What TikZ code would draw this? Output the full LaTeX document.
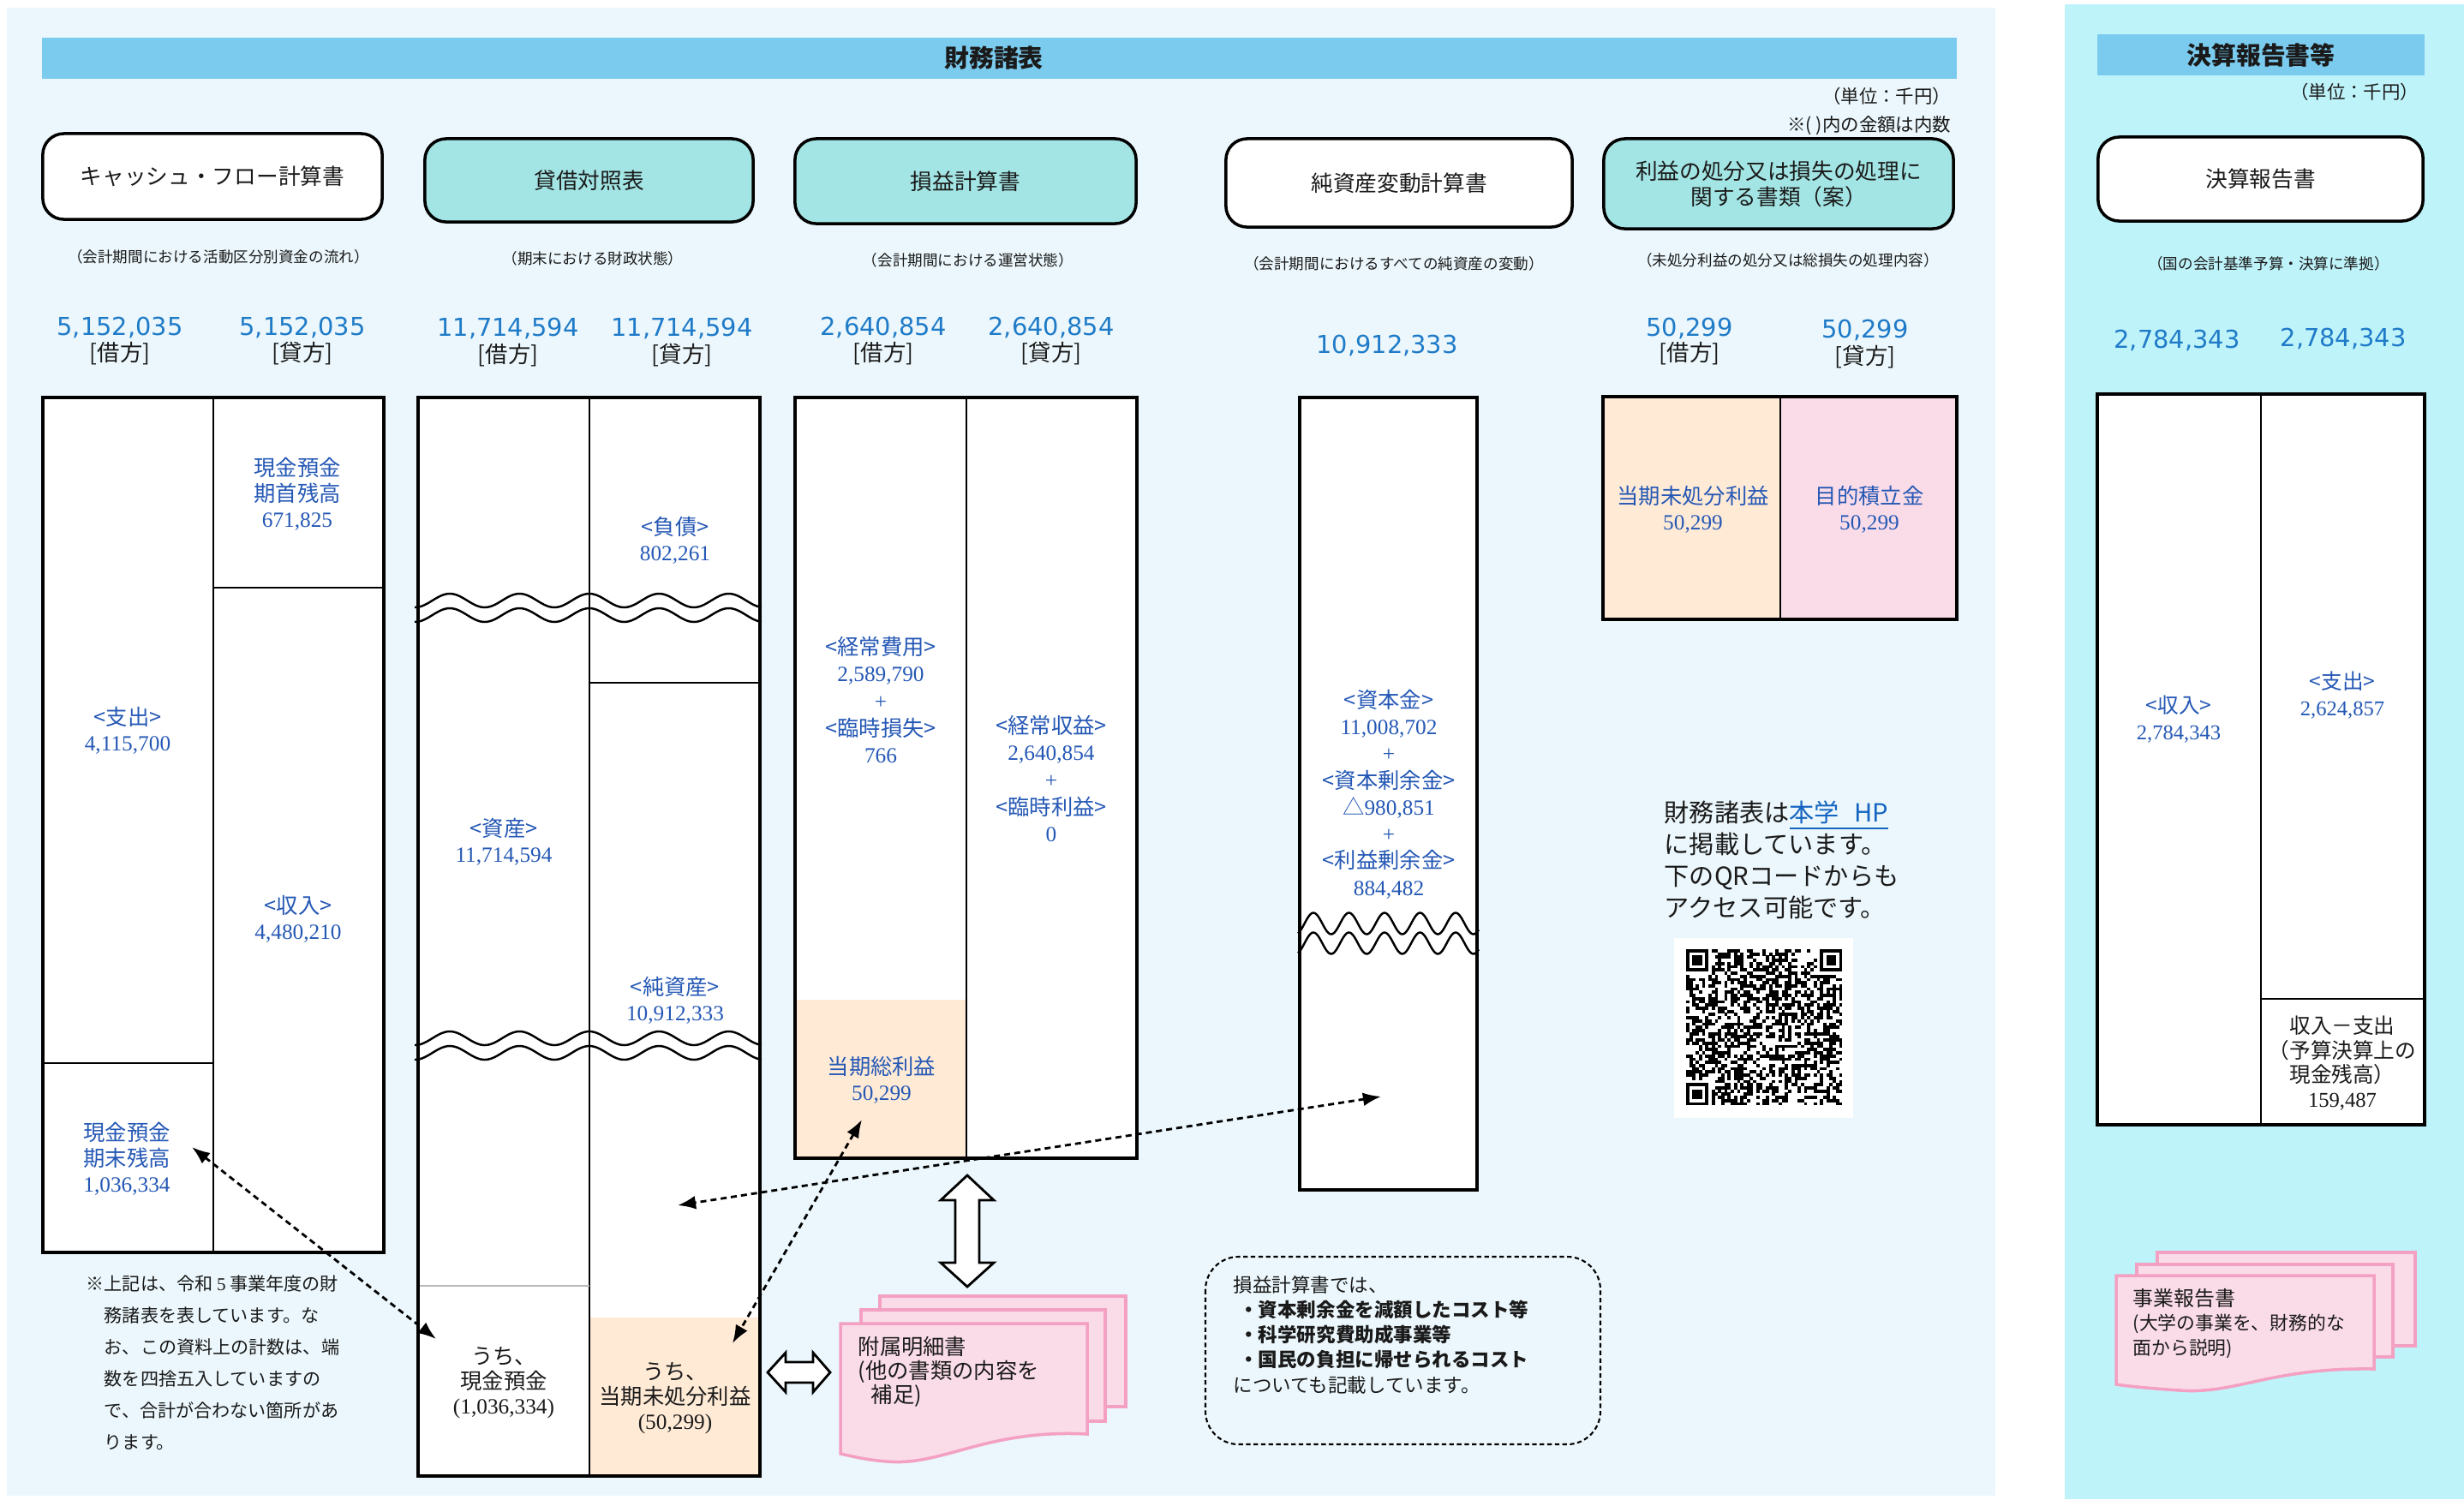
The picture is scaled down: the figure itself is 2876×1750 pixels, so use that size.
\documentclass[tikz,border=0pt]{standalone}
\usepackage{fontspec}
\setmainfont{Noto Sans CJK JP}
\newfontfamily\sernum{Liberation Serif}
\newfontfamily\topfont{DejaVu Sans}
\usetikzlibrary{arrows.meta}
\definecolor{panelbg}{HTML}{EBF7FC}
\definecolor{cyanbg}{HTML}{BFF3FA}
\definecolor{barblue}{HTML}{7BCBEF}
\definecolor{boxteal}{HTML}{A3E5E4}
\definecolor{peach}{HTML}{FFEAD6}
\definecolor{pinkfill}{HTML}{FADCE8}
\definecolor{pinkline}{HTML}{F3A0C2}
\definecolor{numblue}{HTML}{1F7BC8}
\definecolor{lblblue}{HTML}{2558B5}
\definecolor{txt}{HTML}{1A1A1A}
\definecolor{linkblue}{HTML}{1565C0}
\newcommand\setfs[2]{\fontsize{#1}{#2}\selectfont}
\begin{document}
\begin{tikzpicture}[x=0.01cm, y=-0.01cm,
  title/.style={font=\setfs{8.2}{10}\bfseries, text=txt, inner sep=0},
  unit/.style={font=\setfs{6.1}{7}, text=txt, inner sep=0},
  hdrbox/.style={draw=black, line width=1pt, rounded corners=7pt, inner sep=0,
     font=\setfs{7.3}{8.5}, text=txt, align=center},
  subtxt/.style={font=\setfs{5}{6}, text=txt, inner sep=0},
  topnum/.style={font=\topfont\setfs{8.2}{10}, text=numblue, inner sep=0},
  sidetxt/.style={font=\setfs{7.5}{9}, text=txt, inner sep=0},
  tblframe/.style={draw=black, line width=1.3pt},
  tblline/.style={draw=black, line width=0.6pt},
  lbl/.style={font=\setfs{7.2}{8.6}, text=lblblue, align=center, inner sep=0},
  blk/.style={font=\setfs{7.2}{8.3}, text=txt, align=center, inner sep=0},
  wave/.style={line width=0.7pt},
  darrow/.style={<->, >={Latex[length=6pt,width=4.5pt]}, line width=0.8pt,
     dash pattern=on 2pt off 1.4pt},
  bigarrow/.style={draw=black, fill=white, line width=0.8pt, line join=miter},
  docsheet/.style={draw=pinkline, fill=pinkfill, line width=1pt},
  notetxt/.style={font=\setfs{6}{10.5}, text=txt, align=left, inner sep=0},
  boxtxt/.style={font=\setfs{6.4}{8.3}, text=txt, align=left, inner sep=0},
  doctxt/.style={font=\setfs{7.2}{8}, text=txt, align=left, inner sep=0},
  doctxtb/.style={font=\setfs{6.2}{8}, text=txt, align=left, inner sep=0},
  qrtxt/.style={font=\setfs{8.3}{10.5}, text=txt, align=left, inner sep=0}
]
\useasboundingbox (0,0) rectangle (2876,1750);
\fill[white] (0,0) rectangle (2876,1750);
\fill[panelbg] (8,9) rectangle (2329,1746);
\fill[cyanbg] (2410,5) rectangle (2876,1750);

% header bars
\fill[barblue] (49,44) rectangle (2284,92);
\node[title] (ttlFS) at (1160,68) {財務諸表};
\fill[barblue] (2448,40) rectangle (2830,88);
\node[title] (ttlSR) at (2639,64) {決算報告書等};
\node[unit, anchor=east] (unitL) at (2278,112) {（単位：千円）};
\node[unit, anchor=east] (noteL) at (2278,147) {※( )内の金額は内数};
\node[unit, anchor=east] (unitR) at (2824,107) {（単位：千円）};

% title boxes
\node[hdrbox, fill=white, minimum width=3.96cm, minimum height=1.0cm] (hCF) at (248,206) {キャッシュ・フロー計算書};
\node[hdrbox, fill=boxteal, minimum width=3.83cm, minimum height=0.97cm] (hBS) at (687.5,210.5) {貸借対照表};
\node[hdrbox, fill=boxteal, minimum width=3.98cm, minimum height=0.99cm] (hPL) at (1127,211.5) {損益計算書};
\node[hdrbox, fill=white, minimum width=4.04cm, minimum height=1.03cm] (hNA) at (1633,213.5) {純資産変動計算書};
\node[hdrbox, fill=boxteal, minimum width=4.08cm, minimum height=1.05cm] (hAP) at (2076,214.5) {利益の処分又は損失の処理に\\関する書類（案）};
\node[hdrbox, fill=white, minimum width=3.79cm, minimum height=0.98cm] (hSR) at (2638.5,209) {決算報告書};

% subtitles
\node[subtxt] (sCF) at (255,300) {（会計期間における活動区分別資金の流れ）};
\node[subtxt] (sBS) at (692,302) {（期末における財政状態）};
\node[subtxt] (sPL) at (1130,304) {（会計期間における運営状態）};
\node[subtxt] (sNA) at (1627,308) {（会計期間におけるすべての純資産の変動）};
\node[subtxt] (sAP) at (2087,304) {（未処分利益の処分又は総損失の処理内容）};
\node[subtxt] (sSR) at (2648,308) {（国の会計基準予算・決算に準拠）};

% top numbers
\node[topnum] (n1a) at (140,382) {5,152,035};
\node[sidetxt] (d1a) at (140,413) {[借方]};
\node[topnum] (n1b) at (353,382) {5,152,035};
\node[sidetxt] (d1b) at (353,413) {[貸方]};
\node[topnum] (n2a) at (593,383) {11,714,594};
\node[sidetxt] (d2a) at (593,415) {[借方]};
\node[topnum] (n2b) at (796,383) {11,714,594};
\node[sidetxt] (d2b) at (796,415) {[貸方]};
\node[topnum] (n3a) at (1031,382) {2,640,854};
\node[sidetxt] (d3a) at (1031,413) {[借方]};
\node[topnum] (n3b) at (1227,382) {2,640,854};
\node[sidetxt] (d3b) at (1227,413) {[貸方]};
\node[topnum] (n4) at (1619,403) {10,912,333};
\node[topnum] (n5a) at (1972,383) {50,299};
\node[sidetxt] (d5a) at (1972,413) {[借方]};
\node[topnum] (n5b) at (2177,385) {50,299};
\node[sidetxt] (d5b) at (2177,417) {[貸方]};
\node[topnum] (n6a) at (2541,397) {2,784,343};
\node[topnum] (n6b) at (2735,395) {2,784,343};

% ---- Cash flow table
\fill[white] (50,464) rectangle (448,1462);
\draw[tblline] (249,464) -- (249,1462);
\draw[tblline] (249,686) -- (448,686);
\draw[tblline] (50,1241) -- (249,1241);
\draw[tblframe] (50,464) rectangle (448,1462);
\node[lbl] (cfOpen) at (347,577) {現金預金\\期首残高\\{\sernum 671,825}};
\node[lbl] (cfOut) at (149,853) {<支出>\\{\sernum 4,115,700}};
\node[lbl] (cfIn) at (348,1073) {<収入>\\{\sernum 4,480,210}};
\node[lbl] (cfEnd) at (148,1353) {現金預金\\期末残高\\{\sernum 1,036,334}};

% ---- Balance sheet
\fill[white] (488,464) rectangle (887,1723);
\fill[peach] (688,1538) rectangle (887,1723);
\draw[tblline] (688,464) -- (688,1723);
\draw[tblline] (688,797) -- (887,797);
\draw[gray!55, line width=0.8pt] (488,1501) -- (688,1501);
\foreach \c in {701,718,1212,1229}
  \draw[wave] plot[domain=484:889, samples=140] (\x, {\c - 8*cos(4.4226*(\x-525))});
\draw[tblframe] (488,464) rectangle (887,1723);
\node[lbl] (bsL) at (788,631) {<負債>\\{\sernum 802,261}};
\node[lbl] (bsA) at (588,983) {<資産>\\{\sernum 11,714,594}};
\node[lbl] (bsN) at (788,1168) {<純資産>\\{\sernum 10,912,333}};
\node[blk] (bsCash) at (588,1614) {うち、\\現金預金\\{\sernum (1,036,334)}};
\node[blk] (bsUnap) at (788,1632) {うち、\\当期未処分利益\\{\sernum (50,299)}};

% ---- Profit and loss
\fill[white] (928,464) rectangle (1327,1352);
\fill[peach] (928,1167) rectangle (1128,1352);
\draw[tblline] (1128,464) -- (1128,1352);
\draw[tblframe] (928,464) rectangle (1327,1352);
\node[lbl, font=\setfs{7.2}{9}] (plE) at (1028,817) {<経常費用>\\{\sernum 2,589,790}\\{\sernum +}\\<臨時損失>\\{\sernum 766}};
\node[lbl, font=\setfs{7.2}{9}] (plR) at (1227,909) {<経常収益>\\{\sernum 2,640,854}\\{\sernum +}\\<臨時利益>\\{\sernum 0}};
\node[lbl] (plP) at (1029,1261) {当期総利益\\{\sernum 50,299}};

% ---- Net assets
\fill[white] (1517,464) rectangle (1724,1389);
\foreach \c in {1078,1101}
  \draw[wave] plot[domain=1515:1726, samples=120] (\x, {\c - 12.5*cos(8.6747*(\x-1533))});
\draw[tblframe] (1517,464) rectangle (1724,1389);
\node[lbl, font=\setfs{7.2}{8.9}] (naT) at (1621,927) {<資本金>\\{\sernum 11,008,702}\\{\sernum +}\\<資本剰余金>\\△{\sernum 980,851}\\{\sernum +}\\<利益剰余金>\\{\sernum 884,482}};

% ---- Appropriation
\fill[peach] (1871,463) rectangle (2078,723);
\fill[pinkfill] (2078,463) rectangle (2284,723);
\draw[tblline] (2078,463) -- (2078,723);
\draw[tblframe] (1871,463) rectangle (2284,723);
\node[lbl] (apL) at (1976,595) {当期未処分利益\\{\sernum 50,299}};
\node[lbl] (apR) at (2182,595) {目的積立金\\{\sernum 50,299}};

% ---- Settlement report
\fill[white] (2448,460) rectangle (2830,1313);
\draw[tblline] (2639,460) -- (2639,1313);
\draw[tblline] (2639,1166) -- (2830,1166);
\draw[tblframe] (2448,460) rectangle (2830,1313);
\node[lbl, font=\setfs{7}{8.8}] (stIn) at (2543,840) {<収入>\\{\sernum 2,784,343}};
\node[lbl, font=\setfs{7}{8.8}] (stOut) at (2734,812) {<支出>\\{\sernum 2,624,857}};
\node[blk, font=\setfs{7}{8.2}] (stBal) at (2734,1241) {収入－支出\\（予算決算上の\\現金残高）\\{\sernum 159,487}};

% ---- note bottom-left
\node[notetxt, anchor=north west] (fnote) at (100,1488) {※上記は、令和 {\sernum 5} 事業年度の財\\
\hspace*{1em}務諸表を表しています。な\\
\hspace*{1em}お、この資料上の計数は、端\\
\hspace*{1em}数を四捨五入していますの\\
\hspace*{1em}で、合計が合わない箇所があ\\
\hspace*{1em}ります。};

% ---- big white arrows
\draw[bigarrow] (1129,1372) -- (1160,1401) -- (1143,1401) -- (1143,1474) -- (1160,1474) -- (1129,1502) -- (1098,1474) -- (1115,1474) -- (1115,1401) -- (1098,1401) -- cycle;
\draw[bigarrow] (896,1602) -- (917,1579) -- (917,1590) -- (949,1590) -- (949,1579) -- (969,1602) -- (949,1625) -- (949,1614) -- (917,1614) -- (917,1625) -- cycle;

% ---- supplementary schedules document
\draw[docsheet] (1027,1513) rectangle (1314,1642);
\draw[docsheet] (1005,1529) rectangle (1290,1659);
\draw[docsheet] (981,1545) -- (1269,1545) -- (1269,1674) .. controls (1150,1668) and (1100,1712) .. (1035,1706) .. controls (1010,1704) and (995,1700) .. (981,1697) -- cycle;
\node[doctxt, anchor=west] (docSup) at (1001,1601) {附属明細書\\(他の書類の内容を\\\hspace*{0.6em}補足)};

% ---- dashed note box
\draw[dash pattern=on 1.5pt off 1pt, line width=0.6pt, rounded corners=11pt] (1407,1467) rectangle (1868,1686);
\node[boxtxt, anchor=west] (plNote) at (1439,1558) {損益計算書では、\\
\hspace*{0.3em}{\bfseries ・資本剰余金を減額したコスト等}\\
\hspace*{0.3em}{\bfseries ・科学研究費助成事業等}\\
\hspace*{0.3em}{\bfseries ・国民の負担に帰せられるコスト}\\
についても記載しています。};

% ---- HP note + QR
\node[qrtxt, anchor=west] (hpNote) at (1942,1004) {財務諸表は\textcolor{linkblue}{\underline{本学\hspace{0.6em}HP}}\\に掲載しています。\\下のQRコードからも\\アクセス可能です。};
\fill[white] (1954,1095) rectangle (2163,1305);
\pgfmathsetseed{20240}
\foreach \i in {0,...,48}{
  \foreach \j in {0,...,48}{
    \pgfmathtruncatemacro\qsk{or(or(and(\i<8,\j<8),and(\i>40,\j<8)),and(\i<8,\j>40))}
    \pgfmathtruncatemacro\qon{rnd<0.5}
    \ifnum\qsk=0 \ifnum\qon=1 \fill[black] ({1968+\i*3.72},{1108+\j*3.72}) rectangle ++(3.8,3.8);\fi\fi
  }
}
\foreach \ox/\oy in {0/0,42/0,0/42}{
  \fill[black] ({1968+\ox*3.72},{1108+\oy*3.72}) rectangle ++(26.04,26.04);
  \fill[white] ({1968+(\ox+1)*3.72},{1108+(\oy+1)*3.72}) rectangle ++(18.6,18.6);
  \fill[black] ({1968+(\ox+2)*3.72},{1108+(\oy+2)*3.72}) rectangle ++(11.16,11.16);
}

% ---- business report document
\draw[docsheet] (2518,1462) rectangle (2819,1571);
\draw[docsheet] (2494,1476) rectangle (2793,1584);
\draw[docsheet] (2470,1489) -- (2771,1489) -- (2771,1598) .. controls (2650,1596) and (2610,1628) .. (2544,1623) .. controls (2515,1621) and (2490,1619) .. (2470,1616) -- cycle;
\node[doctxtb, anchor=west] (docBiz) at (2489,1545) {{\setfs{6.8}{8}事業報告書}\\(大学の事業を、財務的な\\面から説明)};

% ---- dashed connectors
\coordinate (cfEndPt) at (224,1339);
\coordinate (bsCashPt) at (509,1563);
\coordinate (naPt) at (1612,1280);
\coordinate (bsNetPt) at (791,1407);
\coordinate (plProfitPt) at (1006,1307);
\coordinate (bsUnapPt) at (855,1568);
\draw[darrow] (cfEndPt) -- (bsCashPt);
\draw[darrow] (naPt) -- (bsNetPt);
\draw[darrow] (plProfitPt) -- (bsUnapPt);
\end{tikzpicture}
\end{document}
